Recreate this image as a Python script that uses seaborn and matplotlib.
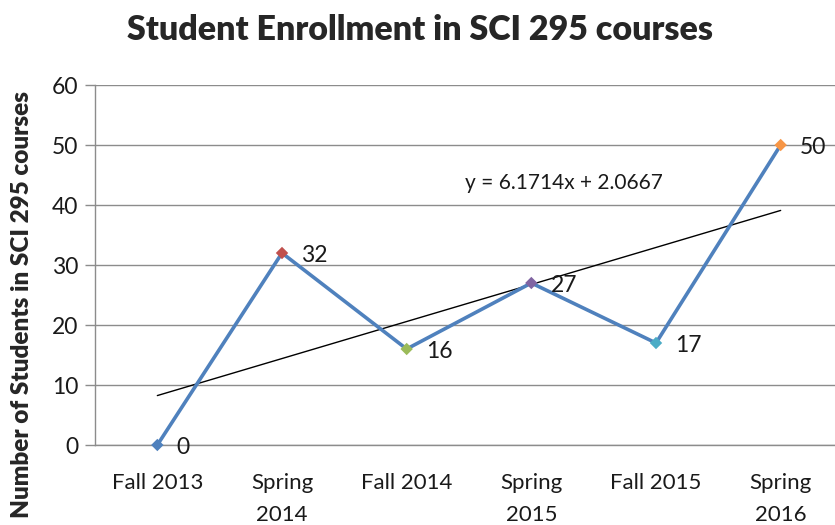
import numpy as np
import pandas as pd
import seaborn as sns
import matplotlib.pyplot as plt

# data
terms = ['Fall 2013', 'Spring\n2014', 'Fall 2014', 'Spring\n2015', 'Fall 2015', 'Spring\n2016']
students = [0, 32, 16, 27, 17, 50]
pos = [1, 2, 3, 4, 5, 6]
marker_colors = ['#4F81BD', '#C0504D', '#9BBB59', '#8064A2', '#4BACC6', '#F79646']

df = pd.DataFrame({'pos': pos, 'students': students, 'term': terms})

sns.set_style('white')
plt.rcParams['font.family'] = ['Lato', 'DejaVu Sans']

fig = plt.figure(figsize=(8.35, 5.25), dpi=100)
ax = fig.add_axes([95 / 835, 80 / 525, 748 / 835, 360 / 525])

# grid first
ax.set_ylim(0, 60)
ax.set_xlim(0.5, 6.5)
ax.set_yticks(range(0, 61, 10))
ax.yaxis.grid(True, color='#8c8c8c', lw=1)
ax.set_axisbelow(True)

sns.lineplot(data=df, x='pos', y='students', color='#4F81BD', lw=2.6, ax=ax, zorder=3,
             clip_on=False)
sns.scatterplot(data=df, x='pos', y='students', hue='term', palette=marker_colors,
                marker='D', s=40, edgecolor='none', legend=False, ax=ax, zorder=4,
                clip_on=False)
sns.regplot(data=df, x='pos', y='students', ci=None, scatter=False,
            line_kws={'color': 'black', 'lw': 1}, ax=ax)

for x, y in zip(pos, students):
    ax.annotate(str(y), (x, y), xytext=(14, -2), textcoords='offset points',
                fontsize=16.5, va='center', ha='left', color='#1a1a1a')

slope, icpt = np.polyfit(pos, students, 1)
ax.text(3.47, 43.7, f'y = {slope:.4f}x + {icpt:.4f}', fontsize=15, va='center', ha='left',
        color='#1a1a1a')

ax.set_xticks(pos)
ax.set_xticklabels(terms, fontsize=16, linespacing=1.75, color='#1a1a1a')
ax.set_xticks([p + 0.5 for p in [0] + pos], minor=True)
ax.tick_params(axis='x', which='major', length=0, pad=20)
ax.tick_params(axis='x', which='minor', length=6, color='#8c8c8c', width=1, direction='out')
ax.tick_params(axis='y', length=7, color='#8c8c8c', width=1, labelsize=16.5, pad=5, left=True,
               labelcolor='#1a1a1a')

for s in ['top', 'right']:
    ax.spines[s].set_visible(False)
for s in ['left', 'bottom']:
    ax.spines[s].set_color('#8c8c8c')
    ax.spines[s].set_linewidth(1)

ax.set_xlabel('')
ax.set_ylabel('Number of Students in SCI 295 courses', fontsize=17.5, fontweight='heavy')
ax.yaxis.set_label_coords(-0.083, 0.39)
fig.text(0.503, 0.942, 'Student Enrollment in SCI 295 courses', fontsize=24.5, fontweight='heavy',
         ha='center', va='center')

fig.savefig('out.png', dpi=100)
